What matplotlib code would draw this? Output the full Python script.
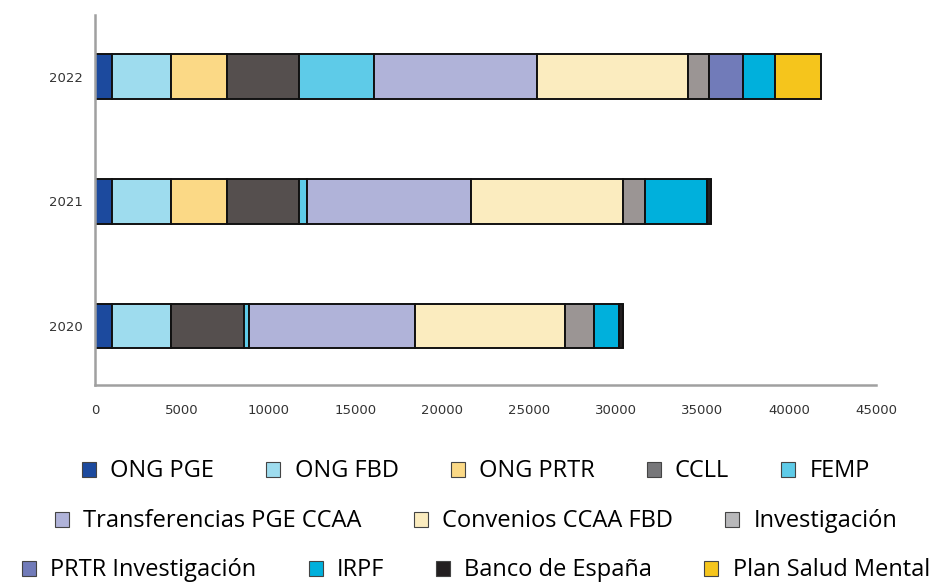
import matplotlib

matplotlib.use("Agg")
import matplotlib.pyplot as plt
import numpy as np
from matplotlib.patches import Patch

years = ["2020", "2021", "2022"]

# one value per year (2020, 2021, 2022)
ong_pge = [1000, 1000, 1000]
ong_fbd = [3370, 3370, 3400]
ong_prtr = [0, 3240, 3200]
ccll = [4210, 4170, 4150]
femp = [270, 430, 4300]
transferencias = [9600, 9480, 9400]
convenios = [8650, 8750, 8700]
investigacion = [1670, 1260, 1250]
prtr_investigacion = [0, 0, 1950]
irpf = [1430, 3550, 1850]
banco_espana = [200, 230, 0]
plan_salud = [0, 0, 2650]

series = [
    ("ONG PGE", ong_pge, "#1c4a9e"),
    ("ONG FBD", ong_fbd, "#9edcee"),
    ("ONG PRTR", ong_prtr, "#fbd986"),
    ("CCLL", ccll, "#554f4e"),
    ("FEMP", femp, "#5ecbe8"),
    ("Transferencias PGE CCAA", transferencias, "#b0b3d9"),
    ("Convenios CCAA FBD", convenios, "#fbecbf"),
    ("Investigación", investigacion, "#9b9594"),
    ("PRTR Investigación", prtr_investigacion, "#717bb9"),
    ("IRPF", irpf, "#00b0dc"),
    ("Banco de España", banco_espana, "#231f20"),
    ("Plan Salud Mental", plan_salud, "#f5c51c"),
]

# legend swatches are slightly different shades than the bars
legend_colors = {
    "CCLL": "#77777a",
    "Investigación": "#b8b8ba",
}

legend_rows = [
    ["ONG PGE", "ONG FBD", "ONG PRTR", "CCLL", "FEMP"],
    ["Transferencias PGE CCAA", "Convenios CCAA FBD", "Investigación"],
    ["PRTR Investigación", "IRPF", "Banco de España", "Plan Salud Mental"],
]
row_y = [0.19, 0.104, 0.02]

fig = plt.figure(figsize=(9.52, 5.82), dpi=100)
ax = fig.add_axes([0.0998, 0.3385, 0.8204, 0.636])

y = np.arange(len(years))
left = np.zeros(len(years))
for name, vals, color in series:
    vals = np.array(vals, dtype=float)
    ax.barh(y, vals, left=left, height=0.36, color=color,
            edgecolor="#111111", linewidth=1.4)
    left += vals

ax.set_xlim(0, 45000)
ax.set_ylim(-0.474, 2.498)
ax.set_xticks(np.arange(0, 45001, 5000))
ax.set_yticks(y)
ax.set_yticklabels(years)
ax.tick_params(axis="both", length=0, labelsize=9.5, colors="#333333")
ax.tick_params(axis="x", pad=14)
ax.tick_params(axis="y", pad=9)
for s in ["top", "right"]:
    ax.spines[s].set_visible(False)
for s in ["left", "bottom"]:
    ax.spines[s].set_color("#a0a0a0")
    ax.spines[s].set_linewidth(1.8)

colors = {name: color for name, _, color in series}
for row, yy in zip(legend_rows, row_y):
    handles = [
        Patch(facecolor=legend_colors.get(n, colors[n]), edgecolor="#444444",
              linewidth=0.8, label=n)
        for n in row
    ]
    fig.legend(handles=handles, loc="center", bbox_to_anchor=(0.5, yy),
               ncol=len(row), frameon=False, handlelength=0.6,
               handleheight=0.6, handletextpad=0.6, columnspacing=2.2,
               borderpad=0.0, borderaxespad=0.0,
               prop={"family": "Open Sans", "size": 17})

fig.savefig("out.png", dpi=100)
